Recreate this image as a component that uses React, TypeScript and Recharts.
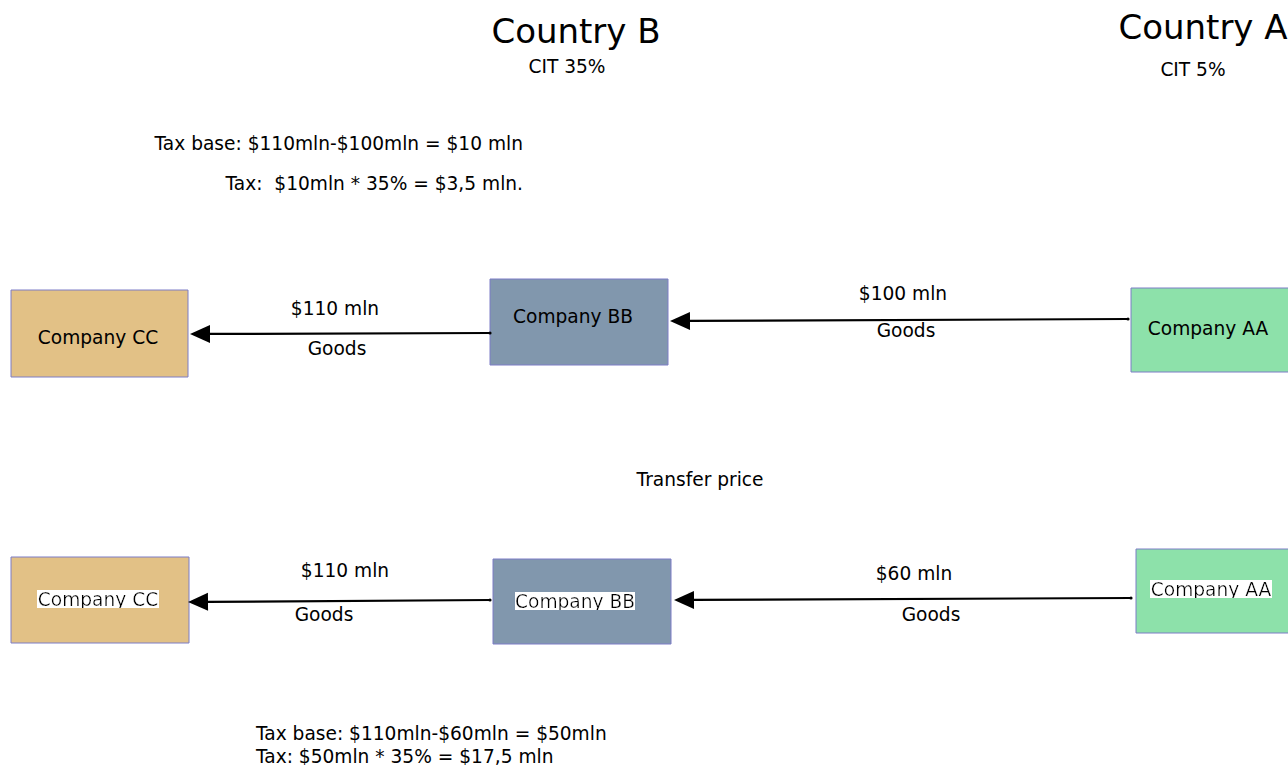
import React from "react";
import {
  ScatterChart,
  Scatter,
  XAxis,
  YAxis,
  ReferenceArea,
  ReferenceLine,
} from "recharts";

// diagram space: 0..1288 across, 0..765 down
const W = 1288;
const H = 765;
const FONT = "DejaVu Sans";

const companyColors: Record<string, string> = {
  "Company CC": "#e2c186",
  "Company BB": "#8197ad",
  "Company AA": "#8de1aa",
};

// company boxes, top row (old price) and bottom row (transfer price)
const topBoxes = [
  { name: "Company CC", x1: 11, x2: 188, y1: 290, y2: 377 },
  { name: "Company BB", x1: 490, x2: 668, y1: 279, y2: 365 },
  { name: "Company AA", x1: 1131, x2: 1296, y1: 288, y2: 372 },
];
const bottomBoxes = [
  { name: "Company CC", x1: 11, x2: 189, y1: 557, y2: 643 },
  { name: "Company BB", x1: 493, x2: 671, y1: 559, y2: 644 },
  { name: "Company AA", x1: 1136, x2: 1296, y1: 549, y2: 633 },
];

// goods flows: tail -> tip
const flows = [
  { from: { x: 490, y: 333 }, to: { x: 190, y: 334 } },
  { from: { x: 1128, y: 319 }, to: { x: 670, y: 321 } },
  { from: { x: 490, y: 600 }, to: { x: 188, y: 602 } },
  { from: { x: 1131, y: 598 }, to: { x: 674, y: 600 } },
];

type Kind = "title" | "text" | "boxed";
const headings = [
  { x: 576, y: 31, text: "Country B", kind: "title", anchor: "middle" },
  { x: 567, y: 66, text: "CIT 35%", kind: "text", anchor: "middle" },
  { x: 1203, y: 27, text: "Country A", kind: "title", anchor: "middle" },
  { x: 1193, y: 69, text: "CIT 5%", kind: "text", anchor: "middle" },
  { x: 523, y: 143, text: "Tax base: $110mln-$100mln = $10 mln", kind: "text", anchor: "end" },
  { x: 523, y: 183, text: "Tax:  $10mln * 35% = $3,5 mln.", kind: "text", anchor: "end" },
  { x: 700, y: 479, text: "Transfer price", kind: "text", anchor: "middle" },
  { x: 256, y: 733, text: "Tax base: $110mln-$60mln = $50mln", kind: "text", anchor: "start" },
  { x: 256, y: 756, text: "Tax: $50mln * 35% = $17,5 mln", kind: "text", anchor: "start" },
];
const flowLabels = [
  { x: 335, y: 308, text: "$110 mln", kind: "text", anchor: "middle" },
  { x: 337, y: 348, text: "Goods", kind: "text", anchor: "middle" },
  { x: 903, y: 293, text: "$100 mln", kind: "text", anchor: "middle" },
  { x: 906, y: 330, text: "Goods", kind: "text", anchor: "middle" },
  { x: 345, y: 570, text: "$110 mln", kind: "text", anchor: "middle" },
  { x: 324, y: 614, text: "Goods", kind: "text", anchor: "middle" },
  { x: 914, y: 573, text: "$60 mln", kind: "text", anchor: "middle" },
  { x: 931, y: 614, text: "Goods", kind: "text", anchor: "middle" },
];
const boxLabels = [
  { x: 98, y: 337, text: "Company CC", kind: "text", anchor: "middle" },
  { x: 573, y: 316, text: "Company BB", kind: "text", anchor: "middle" },
  { x: 1208, y: 328, text: "Company AA", kind: "text", anchor: "middle" },
  { x: 98, y: 599, text: "Company CC", kind: "boxed", anchor: "middle" },
  { x: 575, y: 601, text: "Company BB", kind: "boxed", anchor: "middle" },
  { x: 1211, y: 589, text: "Company AA", kind: "boxed", anchor: "middle" },
];

const fontSizes: Record<Kind, number> = { title: 34, text: 18.6, boxed: 18.6 };

function LabelShape(props: any) {
  const { cx, cy, payload } = props;
  if (cx == null || cy == null) return null;
  const kind = payload.kind as Kind;
  return (
    <g>
      {kind === "boxed" && (
        <defs>
          <filter id="whiteBg" x="0" y="0.1" width="1" height="0.8">
            <feFlood floodColor="#ffffff" />
            <feComposite in="SourceGraphic" operator="over" />
          </filter>
        </defs>
      )}
      <text
        x={cx}
        y={cy}
        textAnchor={payload.anchor}
        dominantBaseline="central"
        fontFamily={FONT}
        fontSize={fontSizes[kind]}
        fill="#000"
        filter={kind === "boxed" ? "url(#whiteBg)" : undefined}
        style={{ whiteSpace: "pre" }}
      >
        {payload.text}
      </text>
    </g>
  );
}

function ArrowShape(props: any) {
  const { x1, y1, x2, y2 } = props;
  if ([x1, y1, x2, y2].some((v) => v == null || Number.isNaN(v))) return null;
  const dx = x2 - x1;
  const dy = y2 - y1;
  const len = Math.hypot(dx, dy) || 1;
  const ux = dx / len;
  const uy = dy / len;
  const head = 20;
  const half = 9;
  const bx = x2 - ux * head;
  const by = y2 - uy * head;
  const pts = [
    [x2, y2],
    [bx - uy * half, by + ux * half],
    [bx + uy * half, by - ux * half],
  ]
    .map((p) => p.join(","))
    .join(" ");
  return (
    <g>
      <line x1={x1} y1={y1} x2={bx} y2={by} stroke="#000" strokeWidth={2.2} />
      <circle cx={x1} cy={y1} r={1.6} fill="#000" />
      <polygon points={pts} fill="#000" />
    </g>
  );
}

export default function App() {
  const labels = [...headings, ...flowLabels, ...boxLabels];
  return (
    <div style={{ position: "absolute", left: 0, top: 0, width: W, height: H, background: "#fff" }}>
      <ScatterChart width={W} height={H} margin={{ top: 0, right: 0, bottom: 0, left: 0 }}>
        <XAxis type="number" dataKey="x" domain={[0, W]} allowDataOverflow hide />
        <YAxis type="number" dataKey="y" domain={[0, H]} reversed allowDataOverflow hide />
        {[...topBoxes, ...bottomBoxes].map((b, i) => (
          <ReferenceArea
            key={`box-${i}`}
            x1={b.x1}
            x2={b.x2}
            y1={b.y1}
            y2={b.y2}
            ifOverflow="visible"
            fill={companyColors[b.name]}
            fillOpacity={1}
            stroke="#7d7dc6"
            strokeWidth={1}
          />
        ))}
        {flows.map((f, i) => (
          <ReferenceLine
            key={`flow-${i}`}
            segment={[f.from, f.to]}
            ifOverflow="visible"
            shape={ArrowShape}
          />
        ))}
        <Scatter data={labels} isAnimationActive={false} shape={LabelShape} />
      </ScatterChart>
    </div>
  );
}
